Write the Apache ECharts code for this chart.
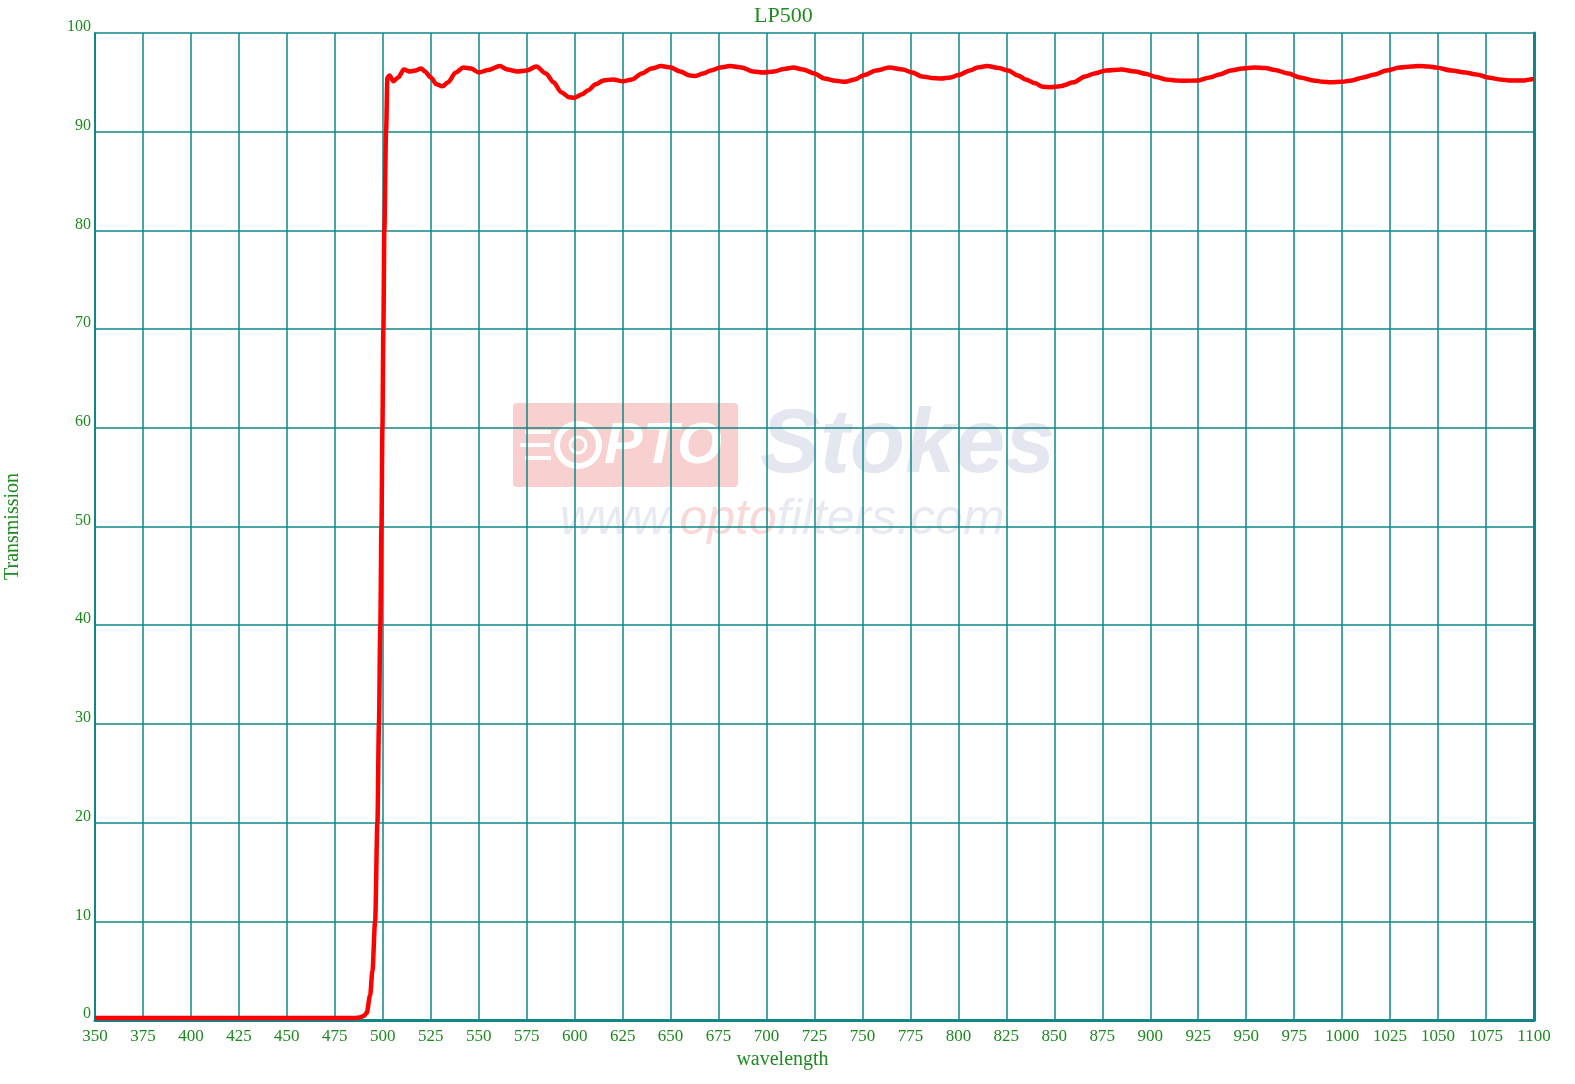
<!DOCTYPE html>
<html>
<head>
<meta charset="utf-8">
<style>
html,body{margin:0;padding:0;background:#fff;}
#chart{width:1575px;height:1084px;}
</style>
<script src="https://cdn.jsdelivr.net/npm/echarts@6/dist/echarts.min.js"></script>
</head>
<body>
<div id="chart"></div>
<script>
// Data
const chartTitle = 'LP500';
const xName = 'wavelength';
const yName = 'Transmission';
const wavelength = [350,400,450,480,485,488,490,491.6,493.4,494.6,496,497.2,498,498.7,499.3,499.8,500.3,500.8,501.7,502.4,503.5,505.5,508,511,514,517,520,522,525,528,531,534,538,542,546,550,555,561,565,570,575,580,585,589,593,597,600,604,607,611,615,620,625,630,635,640,645,650,655,660,663,667,671,676,681,687,693,698,704,709,714,719,725,730,736,741,746,751,757,764,771,776,781,786,791,796,800,806,810,815,821,826,831,835,840,844,848,853,860,866,871,877,885,892,898,903,908,913,917,925,931,936,942,948,954,960,965,972,978,985,990,994,1000,1005,1011,1017,1023,1030,1036,1040,1045,1049,1057,1064,1070,1076,1082,1087,1092,1095,1098,1100];
const transmission = [0.2,0.2,0.2,0.2,0.2,0.25,0.4,0.7,2.5,5.0,10,20,30,40,50,60,70,80,90,95.5,95.7,95.1,95.5,96.3,96.1,96.2,96.4,96.1,95.5,94.8,94.6,95.0,96.0,96.5,96.4,96.0,96.25,96.65,96.3,96.1,96.2,96.6,95.9,95.0,94.0,93.5,93.45,93.8,94.2,94.8,95.2,95.3,95.1,95.3,95.9,96.4,96.65,96.5,96.1,95.7,95.65,95.9,96.2,96.5,96.65,96.5,96.1,96.0,96.1,96.35,96.5,96.3,95.9,95.4,95.15,95.05,95.3,95.75,96.2,96.5,96.3,96.0,95.6,95.45,95.4,95.5,95.75,96.2,96.5,96.65,96.45,96.2,95.7,95.3,94.9,94.55,94.5,94.6,95.0,95.6,95.9,96.2,96.3,96.1,95.85,95.55,95.3,95.2,95.15,95.2,95.5,95.8,96.2,96.4,96.5,96.45,96.25,95.9,95.5,95.2,95.05,95.0,95.05,95.2,95.5,95.8,96.2,96.5,96.6,96.65,96.6,96.5,96.2,96.0,95.8,95.5,95.3,95.2,95.2,95.2,95.3,95.35];
const xTicks = {min: 350, max: 1100, interval: 25};
const yTicks = {min: 0, max: 100, interval: 10};

const seriesData = wavelength.map((w, i) => [w, transmission[i]]);

const green = '#1f8a1f';
const teal = '#0f8787';
const serif = '"Liberation Serif", "DejaVu Serif", serif';

const chart = echarts.init(document.getElementById('chart'), null, {renderer: 'canvas'});
chart.setOption({
  backgroundColor: '#ffffff',
  animation: false,
  title: {
    text: chartTitle,
    left: 749,
    top: 0,
    textStyle: {color: green, fontFamily: serif, fontSize: 22, fontWeight: 'normal'}
  },
  grid: {left: 95, right: 41, top: 33, bottom: 64, containLabel: false, outerBoundsMode: 'none'},
  graphic: [
    {type: 'rect', z: -10, shape: {x: 513, y: 403, width: 225, height: 84, r: 4}, style: {fill: '#f9d0d0'}},
    {type: 'circle', z: -9, shape: {cx: 578, cy: 445, r: 21}, style: {fill: 'none', stroke: '#ffffff', lineWidth: 6}},
    {type: 'circle', z: -9, shape: {cx: 578, cy: 445, r: 8}, style: {fill: 'none', stroke: '#ffffff', lineWidth: 3}},
    {type: 'rect', z: -9, shape: {x: 525, y: 430, width: 26, height: 4}, style: {fill: '#ffffff'}},
    {type: 'rect', z: -9, shape: {x: 520, y: 443, width: 30, height: 4}, style: {fill: '#ffffff'}},
    {type: 'rect', z: -9, shape: {x: 525, y: 456, width: 26, height: 4}, style: {fill: '#ffffff'}},
    {type: 'text', z: -9, style: {text: 'PTO', x: 604, y: 447, verticalAlign: 'middle', align: 'left', font: 'italic bold 58px "Liberation Sans", Arial, sans-serif', fill: '#ffffff'}},
    {type: 'text', z: -9, style: {text: 'Stokes', x: 760, y: 447, verticalAlign: 'middle', align: 'left', font: 'italic bold 90px "Liberation Sans", Arial, sans-serif', fill: '#e4e7f0'}},
    {type: 'text', z: -9, style: {
      text: '{a|www.}{b|opto}{a|filters.com}', x: 560, y: 520, verticalAlign: 'middle', align: 'left',
      rich: {
        a: {font: 'italic 50px "Liberation Sans", Arial, sans-serif', fill: '#e8eaf2'},
        b: {font: 'italic 50px "Liberation Sans", Arial, sans-serif', fill: '#f9d8d8'}
      }
    }}
  ],
  xAxis: {
    type: 'value',
    min: xTicks.min, max: xTicks.max, interval: xTicks.interval,
    name: xName,
    nameLocation: 'middle',
    nameGap: 30,
    nameTextStyle: {color: green, fontFamily: serif, fontSize: 20, padding: [0, 64, 0, 0]},
    axisLine: {show: true, onZero: false, lineStyle: {color: teal, width: 3}},
    axisTick: {show: false},
    axisLabel: {color: green, fontFamily: serif, fontSize: 17, margin: 8, showMinLabel: true, showMaxLabel: true, formatter: v => String(v)},
    splitLine: {show: true, lineStyle: {color: teal, width: 1.5}}
  },
  yAxis: [
    {
      type: 'value',
      min: yTicks.min, max: yTicks.max, interval: yTicks.interval,
      name: yName,
      nameLocation: 'middle',
      nameGap: 72,
      nameRotate: 90,
      nameTextStyle: {color: green, fontFamily: serif, fontSize: 20},
      axisLine: {show: true, lineStyle: {color: teal, width: 2}},
      axisTick: {show: false},
      axisLabel: {color: green, fontFamily: serif, fontSize: 16, margin: 4, verticalAlign: 'bottom', lineHeight: 12, formatter: v => String(v)},
      splitLine: {show: true, lineStyle: {color: teal, width: 1.5}}
    },
    {
      type: 'value',
      position: 'right',
      min: yTicks.min, max: yTicks.max, interval: yTicks.interval,
      axisLine: {show: true, lineStyle: {color: teal, width: 3}},
      axisTick: {show: false},
      axisLabel: {show: false},
      splitLine: {show: false}
    }
  ],
  series: [{
    type: 'line',
    data: seriesData,
    showSymbol: false,
    smooth: 0.3,
    smoothMonotone: 'x',
    clip: false,
    lineStyle: {color: '#ff0000', width: 4.5},
    itemStyle: {color: '#ff0000'},
    z: 5
  }]
});
</script>
</body>
</html>
